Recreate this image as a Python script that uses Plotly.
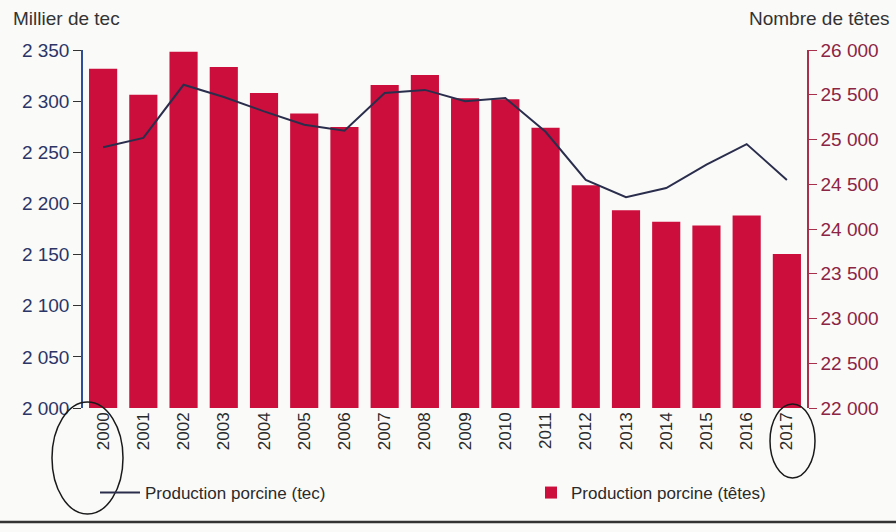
import plotly.graph_objects as go

years = [str(y) for y in range(2000, 2018)]
tetes = [25790, 25500, 25980, 25810, 25520, 25290, 25140, 25610, 25720,
         25460, 25450, 25130, 24490, 24210, 24080, 24040, 24150, 23720]
tec = [2255, 2264, 2316, 2304, 2290, 2277, 2271, 2308, 2311,
       2300, 2303, 2270, 2223, 2206, 2215, 2238, 2258, 2223]

left_ticks = [2000, 2050, 2100, 2150, 2200, 2250, 2300, 2350]
right_ticks = [22000, 22500, 23000, 23500, 24000, 24500, 25000, 25500, 26000]

FONT = "Liberation Sans, Arial, sans-serif"
BAR = "#CC0E3C"
LINE = "#2A2E4C"

fig = go.Figure()
fig.add_trace(go.Scatter(
    x=years, y=tec, name="Production porcine (tec)", mode="lines",
    line=dict(color=LINE, width=2), yaxis="y2", legend="legend"))
fig.add_trace(go.Bar(
    x=years, y=tetes, name="Production porcine (têtes)",
    marker=dict(color=BAR, line=dict(width=0)), yaxis="y", legend="legend2"))

W, H = 896, 532
L, R, T, B = 83, 89, 50, 124
pw, ph = W - L - R, H - T - B

def px(xp):
    return (xp - L) / pw

def py(yp):
    return (H - B - yp) / ph

fig.update_layout(
    width=W, height=H,
    margin=dict(l=L, r=R, t=T, b=B),
    paper_bgcolor="#FAFAF9", plot_bgcolor="rgba(0,0,0,0)",
    separators=", ",
    font=dict(family=FONT, size=16, color="#333333"),
    bargap=0.3,
    showlegend=True,
    legend=dict(orientation="h", x=px(95), xanchor="left", y=py(493), yanchor="middle",
                font=dict(size=17, color="#2a2a2a"), bgcolor="rgba(0,0,0,0)",
                itemwidth=40),
    legend2=dict(orientation="h", x=px(531), xanchor="left", y=py(493), yanchor="middle",
                 font=dict(size=17, color="#2a2a2a"), bgcolor="rgba(0,0,0,0)",
                 itemwidth=30),
    xaxis=dict(type="category", tickangle=-90, showgrid=False, showline=False,
               ticks="", tickfont=dict(size=17, color="#2a2a2a"), fixedrange=True),
    yaxis=dict(side="right", range=[22000, 26000], tickvals=right_ticks,
               tickformat=",d", showgrid=False, showline=True, linecolor="#A8304C",
               linewidth=1.5, ticks="outside", ticklen=8, tickcolor="#A8304C",
               tickfont=dict(size=19, color="#8C2444"), zeroline=False),
    yaxis2=dict(side="left", overlaying="y", range=[2000, 2350], tickvals=left_ticks,
                tickformat=",d", showgrid=False, showline=True, linecolor="#2D4E9A",
                linewidth=1.5, ticks="outside", ticklen=8, tickcolor="#333333",
                tickfont=dict(size=19, color="#2B3566"), zeroline=False),
    annotations=[
        dict(text="Millier de tec", xref="paper", yref="paper", x=px(11), y=py(18),
             xanchor="left", yanchor="middle", showarrow=False,
             font=dict(size=19, color="#333333")),
        dict(text="Nombre de têtes", xref="paper", yref="paper", x=px(891), y=py(18),
             xanchor="right", yanchor="middle", showarrow=False,
             font=dict(size=19, color="#333333")),
    ],
    shapes=[
        dict(type="circle", xref="paper", yref="paper", x0=px(52), x1=px(123),
             y0=py(514), y1=py(402), line=dict(color="#1a1a1a", width=1.5)),
        dict(type="circle", xref="paper", yref="paper", x0=px(770), x1=px(815),
             y0=py(478), y1=py(404), line=dict(color="#1a1a1a", width=1.5)),
        dict(type="line", xref="paper", yref="paper", x0=px(0), x1=px(896),
             y0=py(522), y1=py(522), line=dict(color="#333333", width=2.5)),
    ],
)

fig.write_html("out.html", config={"displayModeBar": False},
               post_script="document.body.style.margin='0';document.body.style.overflow='hidden';")
